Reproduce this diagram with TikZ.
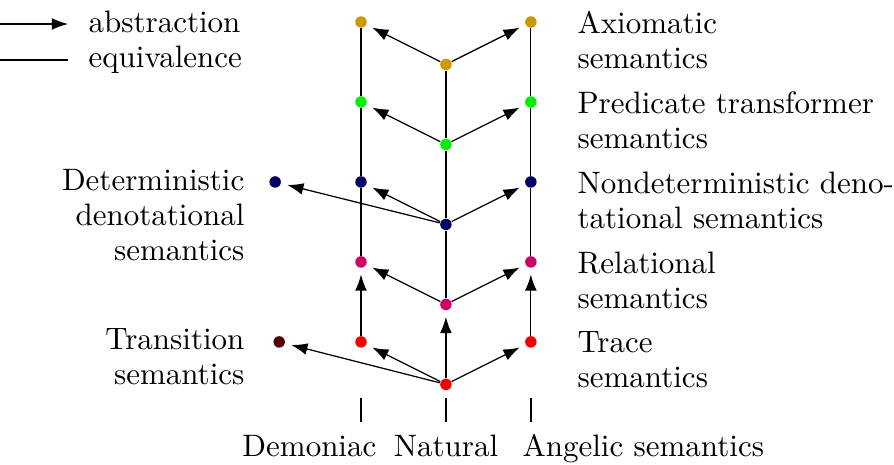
\documentclass[tikz,border=0pt]{standalone}
\usepackage{tikz}
\usetikzlibrary{arrows.meta,positioning}
\usepackage{xcolor}

\definecolor{axcol}{RGB}{204,153,0}
\definecolor{prcol}{RGB}{0,240,0}
\definecolor{ndcol}{RGB}{0,0,102}
\definecolor{recol}{RGB}{204,0,102}
\definecolor{trcol}{RGB}{240,0,0}
\definecolor{tscol}{RGB}{85,0,0}

\begin{document}
\begin{tikzpicture}[x=0.3226pt, y=-0.3226pt, on grid, node distance=25.8pt and 27.4pt,
  >={Latex[length=5.2pt,width=3.8pt]},
  sem/.style={circle, fill=#1, inner sep=0pt, minimum size=3.7pt},
  lbl/.style={inner sep=0pt, font=\fontsize{10}{11.3}\selectfont},
  abstr/.style={->, shorten >=2pt}]
  \useasboundingbox (0,0) rectangle (894,465);

  % demoniac column
  \node[sem=axcol] (dax) at (361,22) {};
  \node[sem=prcol, below=of dax] (dpr) {};
  \node[sem=ndcol, below=of dpr] (dnd) {};
  \node[sem=recol, below=of dnd] (dre) {};
  \node[sem=trcol, below=of dre] (dtr) {};
  % natural column
  \node[sem=axcol, below right=13.7pt and 27.4pt of dax] (nax) {};
  \node[sem=prcol, below=of nax] (npr) {};
  \node[sem=ndcol, below=of npr] (nnd) {};
  \node[sem=recol, below=of nnd] (nre) {};
  \node[sem=trcol, below=of nre] (ntr) {};
  % angelic column
  \node[sem=axcol, right=54.8pt of dax] (aax) {};
  \node[sem=prcol, below=of aax] (apr) {};
  \node[sem=ndcol, below=of apr] (and) {};
  \node[sem=recol, below=of and] (are) {};
  \node[sem=trcol, below=of are] (atr) {};
  % deterministic ones
  \node[sem=ndcol, left=27.7pt of dnd] (det) {};
  \node[sem=tscol, left=26.4pt of dtr] (trs) {};

  % equivalences
  \draw (dax) -- (dpr) -- (dnd) -- (dre);
  \draw (nax) -- (npr) -- (nnd) -- (nre);
  \draw (aax) -- (apr) -- (and) -- (are);
  % abstractions
  \draw[abstr] (dtr) -- (dre);
  \draw[abstr] (ntr) -- (nre);
  \draw[abstr] (atr) -- (are);
  \draw[abstr] (nax) -- (dax);
  \draw[abstr] (nax) -- (aax);
  \draw[abstr] (npr) -- (dpr);
  \draw[abstr] (npr) -- (apr);
  \draw[abstr] (nnd) -- (dnd);
  \draw[abstr] (nnd) -- (and);
  \draw[abstr] (nnd) -- (det);
  \draw[abstr] (nre) -- (dre);
  \draw[abstr] (nre) -- (are);
  \draw[abstr] (ntr) -- (dtr);
  \draw[abstr] (ntr) -- (atr);
  \draw[abstr] (ntr) -- (trs);

  % labels
  \node[lbl, anchor=north west, align=left] (axl) at (577,11) {Axiomatic\\semantics};
  \node[lbl, anchor=north west, align=left] (prl) at (577,91) {Predicate transformer\\semantics};
  \node[lbl, anchor=north west, align=left] (ndl) at (577,171) {Nondeterministic deno-\\tational semantics};
  \node[lbl, anchor=north west, align=left] (rel) at (577,251) {Relational\\semantics};
  \node[lbl, anchor=north west, align=left] (trl) at (577,331) {Trace\\semantics};
  \node[lbl, anchor=north east, align=right] (detl) at (245,169) {Deterministic\\denotational\\semantics};
  \node[lbl, anchor=north east, align=right] (trsl) at (245,328) {Transition\\semantics};

  \foreach \x in {361,446,531}
    \draw (\x,398) -- (\x,422);
  \node[lbl, anchor=base east] (dml) at (377,456) {Demoniac};
  \node[lbl, anchor=base] (ntl) at (446,456) {Natural};
  \node[lbl, anchor=base west] (agl) at (522,456) {Angelic semantics};

  % legend
  \coordinate (la1) at (0,24);
  \coordinate (la2) at (68,24);
  \coordinate (le1) at (0,60);
  \coordinate (le2) at (68,60);
  \draw[->] (la1) -- (la2);
  \draw (le1) -- (le2);
  \node[lbl, anchor=base west] (absl) at (88,32) {abstraction};
  \node[lbl, anchor=base west] (eqvl) at (88,67) {equivalence};
\end{tikzpicture}
\end{document}
